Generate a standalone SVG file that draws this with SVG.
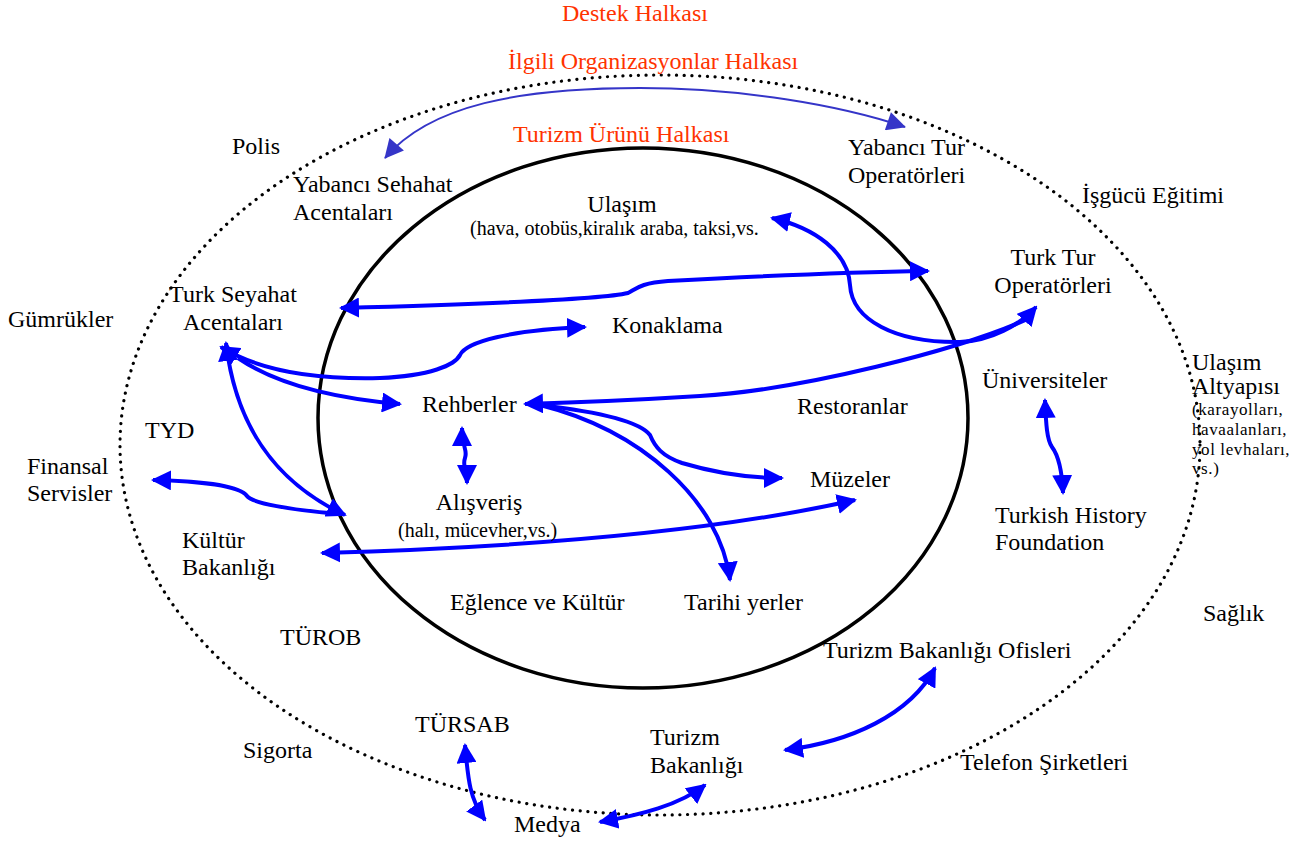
<svg xmlns="http://www.w3.org/2000/svg" width="1309" height="843" viewBox="0 0 1309 843">
<style>
text{font-family:"Liberation Serif","Times New Roman",serif;font-size:24px;fill:#000}
.red{fill:#ff3300}
.sm{font-size:20px}
.xs{font-size:17px;letter-spacing:0.6px}
.ring{fill:none;stroke:#000}
.dotted{stroke-width:3.2;stroke-dasharray:0.1 7.6;stroke-linecap:round}
.solid{stroke-width:3.5}
.c{fill:none;stroke:#0000ff;stroke-width:4;marker-start:url(#ah);marker-end:url(#ah)}
.ce{marker-start:none}
.cs{marker-end:none}
.thin{stroke:#3535c8;stroke-width:2;marker-start:url(#ah2);marker-end:url(#ah2)}
</style>
<defs>
<marker id="ah" viewBox="0 0 20 20" refX="18" refY="10" markerWidth="20" markerHeight="20" markerUnits="userSpaceOnUse" orient="auto-start-reverse"><path d="M0,0 L20,10 L0,20 z" fill="#0000ff"/></marker>
<marker id="ah2" viewBox="0 0 20 20" refX="19" refY="10" markerWidth="20" markerHeight="19" markerUnits="userSpaceOnUse" orient="auto-start-reverse"><path d="M0,0 L20,10 L0,20 z" fill="#3535c8"/></marker>
</defs>
<rect width="1309" height="843" fill="#fff"/>
<g id="rings">
<ellipse class="ring dotted" cx="660" cy="445" rx="540" ry="370"/>
<ellipse class="ring solid" cx="643" cy="418" rx="325" ry="270"/>
</g>
<g id="ring-labels">
<text id="destek" class="red" x="562" y="21">Destek Halkası</text>
<text id="ilgili" class="red" x="508" y="69">İlgili Organizasyonlar Halkası</text>
<text id="urun" class="red" x="513" y="142">Turizm Ürünü Halkası</text>
</g>
<g id="connectors">
<path class="c thin" d="M385,158 C 430,105 520,88 640,88 C 740,88 840,105 905,127"/>
<path class="c" d="M341,308 C 450,305 600,300 628,293 C 636,289 640,283 668,281 C 760,276 860,272 928,271"/>
<path class="c" d="M772,218 C 815,228 848,252 850,285 C 852,320 895,343 960,342 C 990,341 1020,325 1036,307"/>
<path class="c ce" d="M1030,318 C 960,350 800,390 700,396 C 620,401 560,403 525,404"/>
<path class="c" d="M221,347 C 250,365 300,380 380,378 C 430,376 455,365 460,355 C 466,342 510,330 585,327"/>
<path class="c ce" d="M238,358 C 270,380 320,397 400,404"/>
<path class="c" d="M226,343 C 235,420 270,480 345,515"/>
<path class="c cs" d="M153,480 C 200,481 240,486 247,496 C 252,503 290,510 340,514"/>
<path class="c" d="M462,428 C 462,448 468,450 465,458 C 462,466 467,470 467,483"/>
<path class="c ce" d="M540,405 C 600,412 640,422 650,435 C 655,447 662,456 682,463 C 712,472 745,478 782,478"/>
<path class="c ce" d="M540,405 C 640,430 720,500 730,580"/>
<path class="c" d="M322,553 C 500,548 700,535 855,500"/>
<path class="c" d="M1045,400 C 1046,425 1047,440 1052,447 C 1058,455 1062,470 1063,493"/>
<path class="c" d="M785,750 C 850,742 910,715 935,668"/>
<path class="c" d="M465,745 C 468,780 470,800 485,820"/>
<path class="c" d="M600,822 C 640,815 680,805 705,785"/>
</g>
<g id="polis"><text x="232" y="154">Polis</text></g>
<g id="yabanci-sehahat"><text x="293" y="192">Yabancı Sehahat</text><text x="293" y="220">Acentaları</text></g>
<g id="yabanci-tur"><text x="848" y="155">Yabancı Tur</text><text x="848" y="183">Operatörleri</text></g>
<g id="isgucu"><text x="1082" y="203">İşgücü Eğitimi</text></g>
<g id="ulasim"><text x="622" y="212" text-anchor="middle">Ulaşım</text><text class="sm" x="470" y="235">(hava, otobüs,kiralık araba, taksi,vs.</text></g>
<g id="turk-tur"><text x="1053" y="265" text-anchor="middle">Turk Tur</text><text x="1053" y="293" text-anchor="middle">Operatörleri</text></g>
<g id="gumrukler"><text x="8" y="327">Gümrükler</text></g>
<g id="turk-seyahat"><text x="233" y="302" text-anchor="middle">Turk Seyahat</text><text x="233" y="330" text-anchor="middle">Acentaları</text></g>
<g id="konaklama"><text x="612" y="333">Konaklama</text></g>
<g id="universiteler"><text x="982" y="388">Üniversiteler</text></g>
<g id="ulasim-altyapisi"><text x="1192" y="370">Ulaşım</text><text x="1192" y="394">Altyapısı</text><text class="xs" x="1192" y="415">(karayolları,</text><text class="xs" x="1192" y="435">havaalanları,</text><text class="xs" x="1192" y="455">yol levhaları,</text><text class="xs" x="1192" y="474">vs.)</text></g>
<g id="tyd"><text x="145" y="438">TYD</text></g>
<g id="rehberler"><text x="422" y="412">Rehberler</text></g>
<g id="restoranlar"><text x="797" y="414">Restoranlar</text></g>
<g id="finansal"><text x="27" y="474">Finansal</text><text x="27" y="501">Servisler</text></g>
<g id="muzeler"><text x="810" y="487">Müzeler</text></g>
<g id="alisveris"><text x="479" y="510" text-anchor="middle">Alışveriş</text><text class="sm" x="398" y="537">(halı, mücevher,vs.)</text></g>
<g id="turkish-history"><text x="995" y="523">Turkish History</text><text x="995" y="550">Foundation</text></g>
<g id="kultur-bakanligi"><text x="182" y="548">Kültür</text><text x="182" y="575">Bakanlığı</text></g>
<g id="eglence"><text x="450" y="610">Eğlence ve Kültür</text></g>
<g id="tarihi"><text x="684" y="610">Tarihi yerler</text></g>
<g id="saglik"><text x="1203" y="621">Sağlık</text></g>
<g id="turob"><text x="280" y="645">TÜROB</text></g>
<g id="tb-ofisleri"><text x="823" y="658">Turizm Bakanlığı Ofisleri</text></g>
<g id="tursab"><text x="415" y="732">TÜRSAB</text></g>
<g id="sigorta"><text x="243" y="758">Sigorta</text></g>
<g id="turizm-bakanligi"><text x="650" y="745">Turizm</text><text x="650" y="773">Bakanlığı</text></g>
<g id="telefon"><text x="960" y="770">Telefon Şirketleri</text></g>
<g id="medya"><text x="514" y="832">Medya</text></g>
</svg>
